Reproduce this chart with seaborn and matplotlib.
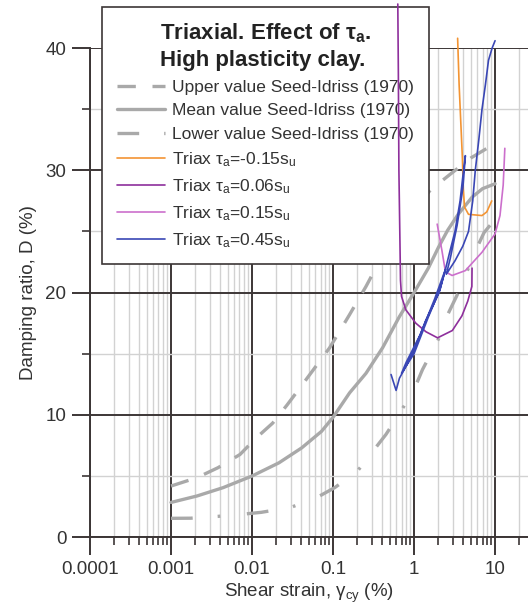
import numpy as np
import seaborn as sns
import matplotlib.pyplot as plt
from matplotlib.ticker import LogLocator, FixedLocator, NullFormatter

# Seed-Idriss (1970) reference curves
upper_x = [0.001, 0.0021, 0.0038, 0.0071, 0.0112, 0.018, 0.027, 0.041, 0.091, 0.16, 0.255,
           0.47, 0.69, 1.05, 1.6, 2.7, 5, 10]
upper_d = [4.18, 4.87, 5.68, 6.76, 8.1, 9.33, 10.8, 12.4, 15.5, 18.2, 20.5,
           23.8, 25.5, 27.0, 28.4, 29.6, 31.0, 32.2]
mean_x = [0.001, 0.0021, 0.0044, 0.01, 0.0215, 0.041, 0.072, 0.1, 0.16, 0.255, 0.41, 0.655,
          1, 1.5, 2.0, 2.6, 3.5, 5.2, 7, 10]
mean_d = [2.84, 3.37, 4.05, 5.0, 6.08, 7.3, 8.65, 9.8, 11.8, 13.4, 15.5, 18.0,
          20.0, 22.0, 23.7, 25.1, 26.4, 27.8, 28.5, 28.9]
lower_x = [0.001, 0.00175, 0.0038, 0.008, 0.013, 0.03, 0.063, 0.105, 0.2, 0.45, 0.69, 1.05,
           1.27, 2.0, 2.6, 3.4, 6, 7.3, 10]
lower_d = [1.54, 1.55, 1.7, 1.89, 2.03, 2.43, 3.24, 4.05, 5.4, 8.4, 10.3, 12.4,
           13.7, 16.2, 18.2, 19.8, 23.7, 24.9, 26.0]

# triaxial tests
orange_x = [3.45, 3.6, 3.8, 3.95, 4.05, 4.2, 4.7, 6.9, 7.9, 9.1]
orange_d = [40.8, 37.0, 33.5, 31.0, 28.5, 27.0, 26.4, 26.3, 26.6, 27.5]

purple_x = [0.63, 0.64, 0.65, 0.67, 0.68, 0.7, 0.79, 1.05, 1.4, 1.95, 2.97, 3.9, 4.6, 5.17, 5.2]
purple_d = [43.6, 38.0, 30.0, 24.0, 21.0, 19.7, 18.6, 17.5, 16.8, 16.3, 16.9, 18.1, 19.3, 20.5, 22.0]

pink_x = [1.93, 2.2, 2.44, 2.95, 4.3, 6.9, 10, 11.5, 12.6, 13.2]
pink_d = [25.6, 23.5, 21.7, 21.4, 21.8, 23.3, 24.8, 26.3, 28.8, 31.8]

blue_x = [0.52, 0.6, 0.66, 0.8, 0.96, 1.15, 1.39, 1.7, 2.04, 2.44, 1.8, 1.2, 0.8, 0.7,
          1.0, 1.5, 2.1, 2.44, 2.8, 3.2, 3.7, 4.0, 4.3, 4.0, 3.4, 2.8, 2.5,
          3.2, 4.0, 4.7, 5.3, 5.7, 6.3, 6.9, 7.6, 8.3, 9.2, 10]
blue_d = [13.3, 12.0, 13.0, 14.0, 15.1, 16.3, 17.7, 18.9, 20.0, 21.9, 19.5, 16.6, 14.3, 13.4,
          15.0, 18.0, 20.3, 21.9, 23.5, 25.0, 27.5, 29.5, 31.2, 28.5, 25.5, 22.8, 21.5,
          22.6, 23.8, 25.0, 27.5, 30.0, 32.5, 35.0, 37.0, 39.0, 40.0, 40.6]

sns.set_theme(style="white")
plt.rcParams['font.family'] = ['Liberation Sans', 'DejaVu Sans']
plt.rcParams['mathtext.default'] = 'regular'

fig = plt.figure(figsize=(5.28, 6.16), dpi=100)
ax = fig.add_axes([0.1705, 0.128, 0.8295, 0.794])

gray = '#a9a9a9'
sns.lineplot(x=upper_x, y=upper_d, ax=ax, color=gray, linewidth=2.4, sort=False, estimator=None,
             linestyle=(0, (5.5, 5)), label='Upper value Seed-Idriss (1970)', zorder=2)
sns.lineplot(x=mean_x, y=mean_d, ax=ax, color=gray, linewidth=2.4, sort=False, estimator=None,
             label='Mean value Seed-Idriss (1970)', zorder=2)
sns.lineplot(x=lower_x, y=lower_d, ax=ax, color=gray, linewidth=2.4, sort=False, estimator=None,
             linestyle=(0, (6.5, 7.5, 0.8, 8)), label='Lower value Seed-Idriss (1970)', zorder=2)

sns.lineplot(x=orange_x, y=orange_d, ax=ax, color='#f39433', linewidth=1.2, sort=False,
             estimator=None, clip_on=False, label='Triax τ$_a$=-0.15s$_u$', zorder=4)
sns.lineplot(x=purple_x, y=purple_d, ax=ax, color='#8e2f9c', linewidth=1.2, sort=False,
             estimator=None, clip_on=False, label='Triax τ$_a$=0.06s$_u$', zorder=4)
sns.lineplot(x=pink_x, y=pink_d, ax=ax, color='#cc6fcc', linewidth=1.2, sort=False,
             estimator=None, clip_on=False, label='Triax τ$_a$=0.15s$_u$', zorder=4)
sns.lineplot(x=blue_x, y=blue_d, ax=ax, color='#3a47b5', linewidth=1.2, sort=False,
             estimator=None, clip_on=False, label='Triax τ$_a$=0.45s$_u$', zorder=4)

ax.set_xscale('log')
ax.set_xlim(1e-4, 25.5)
ax.set_ylim(0, 40)

ax.xaxis.set_major_locator(FixedLocator([1e-4, 1e-3, 1e-2, 1e-1, 1, 10]))
ax.xaxis.set_minor_locator(LogLocator(base=10, subs=np.arange(2, 10), numticks=20))
ax.xaxis.set_minor_formatter(NullFormatter())
ax.set_xticklabels(['0.0001', '0.001', '0.01', '0.1', '1', '10'])
ax.yaxis.set_major_locator(FixedLocator([0, 10, 20, 30, 40]))
ax.yaxis.set_minor_locator(FixedLocator([5, 15, 25, 35]))

ax.grid(True, which='major', color='#3c3636', linewidth=1.4, zorder=0)
ax.grid(True, which='minor', color='#d2d2d2', linewidth=1.0, zorder=0)
ax.set_axisbelow(True)

for s in ['top', 'right']:
    ax.spines[s].set_visible(False)
for s in ['left', 'bottom']:
    ax.spines[s].set_color('#3c3636')
    ax.spines[s].set_linewidth(1.4)

ax.tick_params(which='major', direction='out', length=13, width=1.4, color='#3c3636',
               labelsize=13.5, labelcolor='#333333', pad=4)
ax.tick_params(which='minor', direction='out', length=6, width=1.2, color='#3c3636')
ax.tick_params(axis='y', which='both', left=True)
ax.tick_params(axis='x', which='both', bottom=True)

ax.set_xlabel('Shear strain, γ$_{cy}$ (%)', fontsize=13.5, color='#333333', labelpad=3)
ax.set_ylabel('Damping ratio, D (%)', fontsize=13.5, color='#333333', labelpad=6)

leg = ax.legend(loc='upper left', bbox_to_anchor=(0.027, 1.084), borderaxespad=0,
                title='Triaxial. Effect of τ$_a$.\nHigh plasticity clay.',
                title_fontproperties={'weight': 'bold', 'size': 16},
                fontsize=12.5, frameon=True, fancybox=False, framealpha=1,
                edgecolor='#3c3636', handlelength=2.8, handletextpad=0.4,
                labelspacing=0.48, borderpad=0.85)
leg.get_frame().set_linewidth(1.2)
leg.set_zorder(3)
for t in leg.get_texts():
    t.set_color('#333333')
leg.get_title().set_color('#222222')
leg.get_title().set_linespacing(1.3)

fig.savefig('out.png', dpi=100)
